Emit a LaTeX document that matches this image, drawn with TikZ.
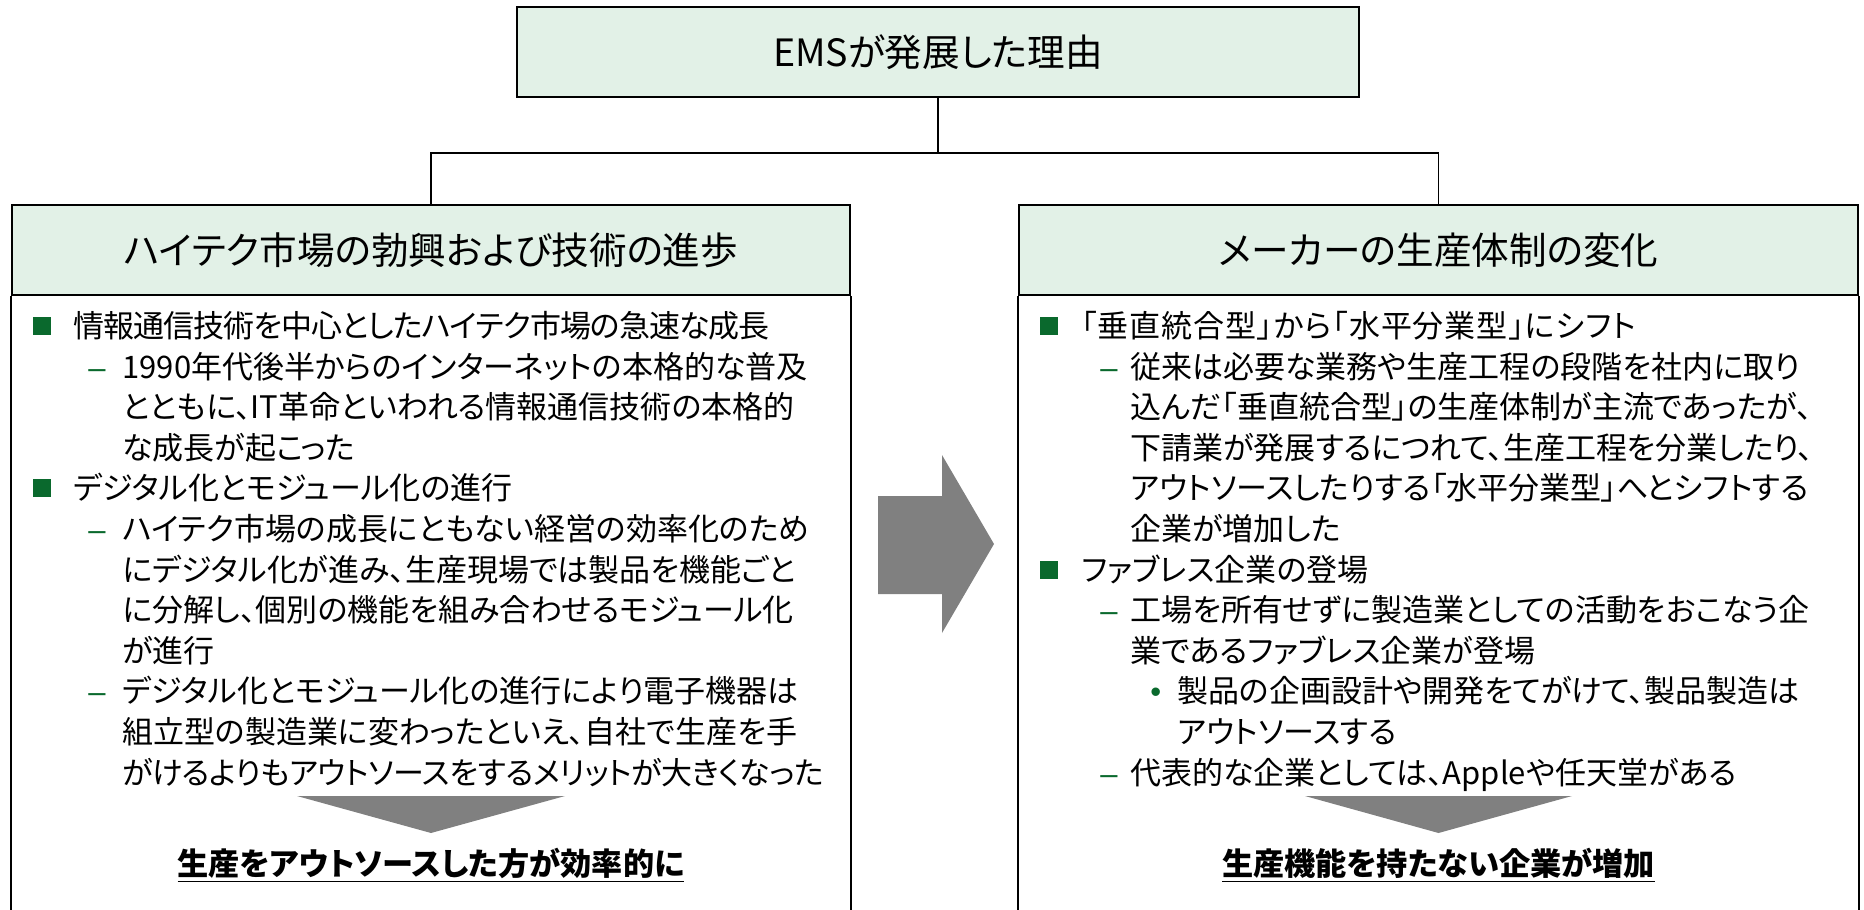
\documentclass[tikz,border=0pt]{standalone}
\usepackage{fontspec}
\setmainfont{Noto Sans CJK JP}[RawFeature=+palt]
\newfontfamily\latinf{Liberation Sans}
\definecolor{hdr}{RGB}{226,241,231}
\definecolor{bgr}{RGB}{10,105,45}
\definecolor{agr}{RGB}{128,128,128}
\tikzset{
  hbox/.style={draw=black, line width=1pt, fill=hdr, inner sep=0pt, minimum height=45pt, font=\fontsize{18.8}{22}\selectfont},
  conn/.style={line width=0.8pt, draw=black},
  frame/.style={line width=1pt, draw=black},
  body/.style={anchor=west, inner sep=0pt, text height=13.4pt, text depth=2pt, font=\fontsize{15.5}{18}\selectfont},
  sq/.style={fill=bgr, inner sep=0pt, minimum size=9pt},
  dsh/.style={anchor=west, inner sep=0pt, text=bgr, text height=13.4pt, text depth=2pt, font=\latinf\fontsize{15.5}{18}\selectfont},
  concl/.style={inner sep=0pt, font=\bfseries\fontsize{15.6}{18}\selectfont},
  tri/.style={fill=agr}
}
\begin{document}
\begin{tikzpicture}[x=0.5pt,y=-0.5pt]
\useasboundingbox (0,0) rectangle (1864,910);
% headers
\node[hbox, minimum width=421pt] (top) at (938,52) {EMSが発展した理由};
\node[hbox, minimum width=419pt] (lh) at (431,250) {ハイテク市場の勃興および技術の進歩};
\node[hbox, minimum width=419.5pt] (rh) at (1438.5,250) {メーカーの生産体制の変化};
% box bodies
\draw[frame] (lh.south west) -- ++(0,616);
\draw[frame] (lh.south east) -- ++(0,616);
\draw[frame] (rh.south west) -- ++(0,616);
\draw[frame] (rh.south east) -- ++(0,616);
% connectors
\draw[conn] (top.south) -- ++(0,55) coordinate (j);
\draw[conn] (j) -| (lh.north);
\draw[conn] (j) -| (rh.north);
% big arrow
\fill[agr] (878,496) -- (942,496) -- (942,455) -- (994,544) -- (942,633) -- (942,594) -- (878,594) -- cycle;
% left content
\node[sq] (ls1) at (42,326) {};
\node[body] (lt1) at (73,326) {\addfontfeature{LetterSpace=-3}情報通信技術を中心としたハイテク市場の急速な成長};
\node[dsh] (ld1) at (88,367) {–};
\node[body] (lt2) at (122,367) {1990年代後半からのインターネットの本格的な普及};
\node[body] (lt3) at (122,407) {とともに、IT革命といわれる情報通信技術の本格的};
\node[body] (lt4) at (122,448) {な成長が起こった};
\node[sq] (ls2) at (42,488) {};
\node[body] (lt5) at (73,488) {デジタル化とモジュール化の進行};
\node[dsh] (ld2) at (88,529) {–};
\node[body] (lt6) at (122,529) {ハイテク市場の成長にともない経営の効率化のため};
\node[body] (lt7) at (122,570) {にデジタル化が進み、生産現場では製品を機能ごと};
\node[body] (lt8) at (122,610) {に分解し、個別の機能を組み合わせるモジュール化};
\node[body] (lt9) at (122,651) {が進行};
\node[dsh] (ld3) at (88,691) {–};
\node[body] (lt10) at (122,691) {デジタル化とモジュール化の進行により電子機器は};
\node[body] (lt11) at (122,732) {組立型の製造業に変わったといえ、自社で生産を手};
\node[body] (lt12) at (122,773) {\addfontfeature{LetterSpace=-1.5}がけるよりもアウトソースをするメリットが大きくなった};
\fill[tri] (297,796) -- (565,796) -- (431,833) -- cycle;
\node[concl] (lc) at (431,865) {\underline{生産をアウトソースした方が効率的に}};
% right content
\node[sq] (rs1) at (1049,326) {};
\node[body] (rt1) at (1081,326) {\addfontfeature{LetterSpace=3}「垂直統合型」から「水平分業型」にシフト};
\node[dsh] (rd1) at (1100,367) {–};
\node[body] (rt2) at (1130,367) {従来は必要な業務や生産工程の段階を社内に取り};
\node[body] (rt3) at (1130,407) {込んだ「垂直統合型」の生産体制が主流であったが、};
\node[body] (rt4) at (1130,448) {下請業が発展するにつれて、生産工程を分業したり、};
\node[body] (rt5) at (1130,488) {アウトソースしたりする「水平分業型」へとシフトする};
\node[body] (rt6) at (1130,529) {企業が増加した};
\node[sq] (rs2) at (1049,570) {};
\node[body] (rt7) at (1081,570) {ファブレス企業の登場};
\node[dsh] (rd2) at (1100,610) {–};
\node[body] (rt8) at (1130,610) {工場を所有せずに製造業としての活動をおこなう企};
\node[body] (rt9) at (1130,651) {業であるファブレス企業が登場};
\node[dsh] (rb1) at (1150,691) {•};
\node[body] (rt10) at (1177,691) {製品の企画設計や開発をてがけて、製品製造は};
\node[body] (rt11) at (1177,732) {アウトソースする};
\node[dsh] (rd3) at (1100,773) {–};
\node[body] (rt12) at (1130,773) {代表的な企業としては、Appleや任天堂がある};
\fill[tri] (1305,796) -- (1572,796) -- (1438.5,833) -- cycle;
\node[concl] (rc) at (1438.5,865) {\underline{生産機能を持たない企業が増加}};
\end{tikzpicture}
\end{document}
